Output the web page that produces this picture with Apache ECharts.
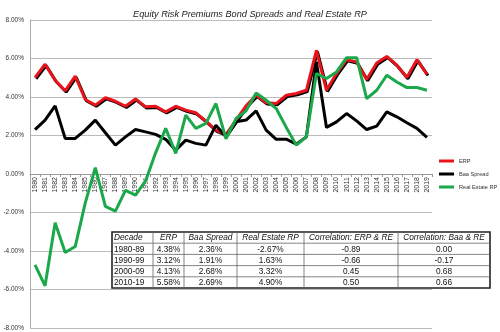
<!DOCTYPE html>
<html>
<head>
<meta charset="utf-8">
<script src="https://cdn.jsdelivr.net/npm/echarts@6/dist/echarts.min.js"></script>
<style>html,body{margin:0;padding:0;background:#fff}#c{width:500px;height:332px}</style>
</head>
<body>
<div id="c"></div>
<script>
var years = ['1980','1981','1982','1983','1984','1985','1986','1987','1988','1989','1990','1991','1992','1993','1994','1995','1996','1997','1998','1999','2000','2001','2002','2003','2004','2005','2006','2007','2008','2009','2010','2011','2012','2013','2014','2015','2016','2017','2018','2019'];
var erp = [5.01,5.70,4.87,4.32,5.08,3.87,3.58,3.97,3.78,3.52, 3.90,3.49,3.52,3.23,3.52,3.32,3.18,2.75,2.28,2.05, 2.80,3.54,4.09,3.70,3.66,4.09,4.18,4.35,6.42,4.35, 5.22,5.94,5.82,4.91,5.77,6.11,5.65,5.01,5.94,5.18];
var baa = [2.31,2.80,3.54,1.85,1.85,2.28,2.80,2.14,1.50,1.93, 2.31,2.19,2.06,1.80,1.24,1.76,1.59,1.50,2.54,1.93, 2.71,2.80,3.28,2.28,1.80,1.81,1.55,1.93,5.82,2.42, 2.71,3.14,2.76,2.31,2.49,3.23,2.97,2.66,2.37,1.90];
var realEstate = [-4.72,-5.81,-2.53,-4.08,-3.77,-1.50,0.33,-1.68,-1.93,-0.85, -1.10,-0.36,1.10,2.37,1.07,3.06,2.37,2.63,3.66,1.83, 2.88,3.28,4.21,3.83,3.40,2.42,1.50,1.93,5.22,4.96, 5.30,6.04,6.04,3.92,4.35,5.13,4.78,4.49,4.49,4.35];
var seriesNames = ['ERP','Baa Spread','Real Estate RP'];
var tableHeader = ['Decade','ERP','Baa Spread','Real Estate RP','Correlation: ERP & RE','Correlation: Baa & RE'];
var tableRows = [
  ['1980-89','4.38%','2.36%','-2.67%','-0.89','0.00'],
  ['1990-99','3.12%','1.91%','1.63%','-0.66','-0.17'],
  ['2000-09','4.13%','2.68%','3.32%','0.45','0.68'],
  ['2010-19','5.58%','2.69%','4.90%','0.50','0.66']
];

var chart = echarts.init(document.getElementById('c'), null, {renderer:'canvas'});
var FONT = 'Liberation Sans';

// table graphic
var colX = [112,153,184,237,304,398,490];
var tTop = 232, rowH = 11.2;
var g = [];
g.push({type:'rect', shape:{x:colX[0],y:tTop,width:colX[6]-colX[0],height:rowH*5}, style:{fill:'#fff',stroke:'#222',lineWidth:1.6}, z:100});
for (var r=1;r<5;r++) g.push({type:'line', shape:{x1:colX[0],y1:tTop+rowH*r,x2:colX[6],y2:tTop+rowH*r}, style:{stroke:'#666',lineWidth:0.8}, z:101});
for (var c=1;c<6;c++) g.push({type:'line', shape:{x1:colX[c],y1:tTop,x2:colX[c],y2:tTop+rowH*5}, style:{stroke:'#666',lineWidth:0.8}, z:101});
var allRows = [tableHeader].concat(tableRows);
allRows.forEach(function(row, ri){
  row.forEach(function(txt, ci){
    var left = ci===0;
    g.push({type:'text', z:102,
      x: left ? colX[0]+2 : (colX[ci]+colX[ci+1])/2,
      y: tTop + rowH*ri + rowH/2 + 0.5,
      style:{text:txt, fill:'#111', font:(ri===0?'italic ':'')+'8.3px "'+FONT+'"', align:left?'left':'center', verticalAlign:'middle'}
    });
  });
});

var option = {
  animation:false,
  title:{text:'Equity Risk Premiums Bond Spreads and Real Estate RP', left:'center', top:5,
    textStyle:{fontFamily:FONT, fontSize:9.2, fontStyle:'italic', fontWeight:'normal', color:'#222'}},
  legend:{orient:'vertical', left:439, top:158, icon:'rect', itemWidth:15, itemHeight:3, itemGap:7, padding:0,
    textStyle:{fontFamily:FONT, fontSize:5.6, color:'#333'}, data:seriesNames},
  grid:{left:30, right:68, top:20, bottom:4, containLabel:false},
  xAxis:{type:'category', data:years, boundaryGap:true, offset:-154,
    axisLine:{onZero:false, lineStyle:{color:'#999', width:1}},
    axisTick:{show:true, length:3, lineStyle:{color:'#999'}},
    axisLabel:{rotate:90, fontSize:7, fontFamily:FONT, color:'#333', margin:3, interval:0}},
  yAxis:{type:'value', min:-8, max:8, interval:2,
    axisLine:{show:true, lineStyle:{color:'#aaa'}},
    axisTick:{show:false},
    splitLine:{lineStyle:{color:'#bbb', width:1}},
    axisLabel:{formatter:function(v){return v.toFixed(2)+'%';}, fontSize:6.5, fontFamily:FONT, color:'#333', margin:6}},
  series:[
    {name:seriesNames[0], type:'line', data:erp, showSymbol:false, color:'#e8141b',
      lineStyle:{width:3, color:'#e8141b', shadowColor:'#000', shadowOffsetX:1, shadowOffsetY:1.2, shadowBlur:0}},
    {name:seriesNames[1], type:'line', data:baa, showSymbol:false, color:'#000',
      lineStyle:{width:3, color:'#000'}},
    {name:seriesNames[2], type:'line', data:realEstate, showSymbol:false, color:'#1aa84a',
      lineStyle:{width:3, color:'#1aa84a'}}
  ],
  graphic:g
};
chart.setOption(option);
</script>
</body>
</html>
